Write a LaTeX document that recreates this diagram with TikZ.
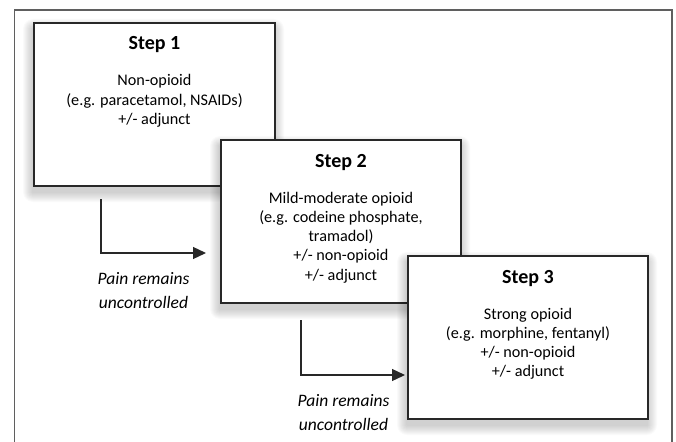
\documentclass[tikz,border=0pt]{standalone}
\usepackage{fontspec}
\setmainfont{Carlito}
\usetikzlibrary{calc,arrows.meta}
\definecolor{framegray}{RGB}{95,95,95}
\definecolor{boxline}{RGB}{40,40,40}
\newcommand{\linesof}[1]{\begin{tabular}[t]{@{}c@{}}#1\end{tabular}}
% soft shadow behind a box: x, y (top-left, y downwards), width, height
\newcommand{\softshade}[4]{%
  \foreach \i in {1,...,10}{%
    \fill[black, opacity=0.018, rounded corners=\i pt]
      ({#1-\i-1},{-#2-6+\i}) rectangle ({#1+#3+\i-1},{-#2-#4-6-\i});
  }}
\begin{document}
\begin{tikzpicture}[x=1pt,y=1pt,
  stepbox/.style={draw=boxline, line width=1.3pt, fill=white, inner sep=0pt, outer sep=0pt,
    anchor=north west, minimum width=240pt, minimum height=163pt},
  steptitle/.style={anchor=base, inner sep=0pt, font=\fontsize{20}{24}\selectfont\bfseries},
  stepbody/.style={anchor=base, inner sep=0pt, font=\fontsize{16.2}{19.3}\selectfont},
  painlabel/.style={anchor=base, inner sep=0pt, font=\fontsize{17.5}{24.5}\selectfont\itshape},
  flowarrow/.style={draw=boxline, line width=1.3pt, -{Triangle[length=13pt,width=12pt]}}
]
\useasboundingbox (0,0) rectangle (676,-441);
% outer frame
\draw[framegray, line width=1.8pt] (14.5,-445) -- (14.5,-10) -- (672,-10) -- (672,-445);

% Step 1
\softshade{34}{23}{241}{163}
\node[stepbox, minimum width=241pt] (b1) at (34,-23) {};
\node[steptitle] (t1) at ($(b1.north)+(0,-27)$) {Step 1};
\node[stepbody] (d1) at ($(b1.north)+(0,-63)$) {\linesof{Non-opioid\\(e.g. paracetamol, NSAIDs)\\+/- adjunct}};

% arrow 1
\coordinate (a1s) at (101,-199);
\coordinate (a1e) at (206,-253);
\draw[flowarrow] (a1s) |- (a1e);
\node[painlabel] (p1) at (143.5,-284) {\linesof{Pain remains\\uncontrolled}};

% Step 2
\softshade{221}{140}{240}{163}
\node[stepbox] (b2) at (221,-140) {};
\node[steptitle] (t2) at ($(b2.north)+(0,-27)$) {Step 2};
\node[stepbody] (d2) at ($(b2.north)+(0,-63)$) {\linesof{Mild-moderate opioid\\(e.g. codeine phosphate,\\tramadol)\\+/- non-opioid\\+/- adjunct}};

% arrow 2
\coordinate (a2s) at (301,-320);
\coordinate (a2e) at (405,-375);
\draw[flowarrow] (a2s) |- (a2e);
\node[painlabel] (p2) at (343.5,-406) {\linesof{Pain remains\\uncontrolled}};

% Step 3
\softshade{408}{256}{240}{163}
\node[stepbox] (b3) at (408,-256) {};
\node[steptitle] (t3) at ($(b3.north)+(0,-27)$) {Step 3};
\node[stepbody] (d3) at ($(b3.north)+(0,-63)$) {\linesof{Strong opioid\\(e.g. morphine, fentanyl)\\+/- non-opioid\\+/- adjunct}};
\end{tikzpicture}
\end{document}
